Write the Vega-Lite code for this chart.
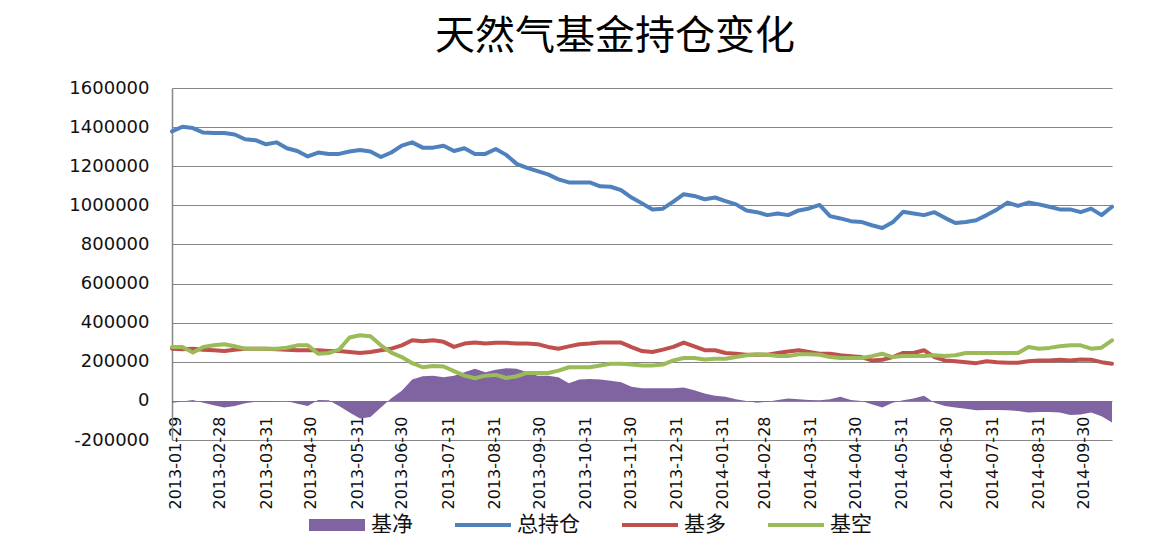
{
  "$schema": "https://vega.github.io/schema/vega-lite/v6.json",
  "autosize": {"type": "none"},
  "width": 940,
  "height": 352,
  "padding": {"left": 172, "top": 88, "right": 50, "bottom": 113},
  "background": "white",
  "title": {"text": "天然气基金持仓变化", "font": "Noto Sans CJK SC", "fontSize": 40, "fontWeight": "normal", "color": "#000000", "anchor": "middle", "frame": "group", "offset": 22, "dx": -27},
  "data": {"values": [
    {"date": "2013-01-29", "基净": -10000, "总持仓": 1378000, "基多": 267000, "基空": 276000},
    {"date": "2013-02-05", "基净": -3000, "总持仓": 1402000, "基多": 264000, "基空": 276000},
    {"date": "2013-02-12", "基净": 5000, "总持仓": 1395000, "基多": 267000, "基空": 247000},
    {"date": "2013-02-19", "基净": -9000, "总持仓": 1372000, "基多": 262000, "基空": 276000},
    {"date": "2013-02-26", "基净": -22000, "总持仓": 1370000, "基多": 259000, "基空": 284000},
    {"date": "2013-03-05", "基净": -34000, "总持仓": 1370000, "基多": 255000, "基空": 290000},
    {"date": "2013-03-12", "基净": -26000, "总持仓": 1362000, "基多": 262000, "基空": 279000},
    {"date": "2013-03-19", "基净": -12000, "总持仓": 1338000, "基多": 267000, "基空": 267000},
    {"date": "2013-03-26", "基净": -5000, "总持仓": 1333000, "基多": 267000, "基空": 267000},
    {"date": "2013-04-02", "基净": -5000, "总持仓": 1312000, "基多": 267000, "基空": 267000},
    {"date": "2013-04-09", "基净": -3000, "总持仓": 1322000, "基多": 264000, "基空": 267000},
    {"date": "2013-04-16", "基净": 0, "总持仓": 1292000, "基多": 262000, "基空": 272000},
    {"date": "2013-04-23", "基净": -14000, "总持仓": 1278000, "基多": 259000, "基空": 284000},
    {"date": "2013-04-30", "基净": -26000, "总持仓": 1250000, "基多": 259000, "基空": 284000},
    {"date": "2013-05-07", "基净": 5000, "总持仓": 1270000, "基多": 259000, "基空": 241000},
    {"date": "2013-05-14", "基净": 3000, "总持仓": 1263000, "基多": 255000, "基空": 245000},
    {"date": "2013-05-21", "基净": -26000, "总持仓": 1263000, "基多": 255000, "基空": 262000},
    {"date": "2013-05-28", "基净": -60000, "总持仓": 1275000, "基多": 250000, "基空": 324000},
    {"date": "2013-06-04", "基净": -90000, "总持仓": 1283000, "基多": 245000, "基空": 336000},
    {"date": "2013-06-11", "基净": -83000, "总持仓": 1275000, "基多": 250000, "基空": 331000},
    {"date": "2013-06-18", "基净": -34000, "总持仓": 1247000, "基多": 259000, "基空": 284000},
    {"date": "2013-06-25", "基净": 14000, "总持仓": 1270000, "基多": 267000, "基空": 247000},
    {"date": "2013-07-02", "基净": 52000, "总持仓": 1305000, "基多": 284000, "基空": 224000},
    {"date": "2013-07-09", "基净": 109000, "总持仓": 1322000, "基多": 310000, "基空": 193000},
    {"date": "2013-07-16", "基净": 126000, "总持仓": 1295000, "基多": 305000, "基空": 172000},
    {"date": "2013-07-23", "基净": 129000, "总持仓": 1295000, "基多": 310000, "基空": 178000},
    {"date": "2013-07-30", "基净": 121000, "总持仓": 1305000, "基多": 302000, "基空": 176000},
    {"date": "2013-08-06", "基净": 129000, "总持仓": 1278000, "基多": 276000, "基空": 152000},
    {"date": "2013-08-13", "基净": 147000, "总持仓": 1292000, "基多": 293000, "基空": 129000},
    {"date": "2013-08-20", "基净": 164000, "总持仓": 1263000, "基多": 298000, "基空": 116000},
    {"date": "2013-08-27", "基净": 147000, "总持仓": 1263000, "基多": 293000, "基空": 129000},
    {"date": "2013-09-03", "基净": 159000, "总持仓": 1288000, "基多": 297000, "基空": 133000},
    {"date": "2013-09-10", "基净": 167000, "总持仓": 1258000, "基多": 297000, "基空": 117000},
    {"date": "2013-09-17", "基净": 164000, "总持仓": 1212000, "基多": 293000, "基空": 126000},
    {"date": "2013-09-24", "基净": 147000, "总持仓": 1192000, "基多": 293000, "基空": 143000},
    {"date": "2013-10-01", "基净": 129000, "总持仓": 1175000, "基多": 290000, "基空": 143000},
    {"date": "2013-10-08", "基净": 129000, "总持仓": 1158000, "基多": 276000, "基空": 143000},
    {"date": "2013-10-15", "基净": 121000, "总持仓": 1133000, "基多": 267000, "基空": 155000},
    {"date": "2013-10-22", "基净": 90000, "总持仓": 1117000, "基多": 279000, "基空": 172000},
    {"date": "2013-10-29", "基净": 109000, "总持仓": 1117000, "基多": 290000, "基空": 172000},
    {"date": "2013-11-05", "基净": 112000, "总持仓": 1117000, "基多": 293000, "基空": 172000},
    {"date": "2013-11-12", "基净": 109000, "总持仓": 1097000, "基多": 298000, "基空": 181000},
    {"date": "2013-11-19", "基净": 103000, "总持仓": 1095000, "基多": 298000, "基空": 190000},
    {"date": "2013-11-26", "基净": 95000, "总持仓": 1078000, "基多": 298000, "基空": 190000},
    {"date": "2013-12-03", "基净": 72000, "总持仓": 1040000, "基多": 275000, "基空": 186000},
    {"date": "2013-12-10", "基净": 65000, "总持仓": 1010000, "基多": 255000, "基空": 181000},
    {"date": "2013-12-17", "基净": 64000, "总持仓": 979000, "基多": 250000, "基空": 181000},
    {"date": "2013-12-24", "基净": 64000, "总持仓": 983000, "基多": 262000, "基空": 186000},
    {"date": "2013-12-31", "基净": 64000, "总持仓": 1019000, "基多": 276000, "基空": 207000},
    {"date": "2014-01-07", "基净": 69000, "总持仓": 1057000, "基多": 298000, "基空": 219000},
    {"date": "2014-01-14", "基净": 55000, "总持仓": 1048000, "基多": 279000, "基空": 219000},
    {"date": "2014-01-21", "基净": 38000, "总持仓": 1031000, "基多": 259000, "基空": 212000},
    {"date": "2014-01-28", "基净": 26000, "总持仓": 1040000, "基多": 259000, "基空": 216000},
    {"date": "2014-02-04", "基净": 21000, "总持仓": 1022000, "基多": 245000, "基空": 216000},
    {"date": "2014-02-11", "基净": 9000, "总持仓": 1005000, "基多": 241000, "基空": 224000},
    {"date": "2014-02-18", "基净": 0, "总持仓": 974000, "基多": 236000, "基空": 233000},
    {"date": "2014-02-25", "基净": -9000, "总持仓": 965000, "基多": 236000, "基空": 238000},
    {"date": "2014-03-04", "基净": -5000, "总持仓": 950000, "基多": 236000, "基空": 236000},
    {"date": "2014-03-11", "基净": 5000, "总持仓": 958000, "基多": 245000, "基空": 229000},
    {"date": "2014-03-18", "基净": 12000, "总持仓": 950000, "基多": 253000, "基空": 229000},
    {"date": "2014-03-25", "基净": 9000, "总持仓": 974000, "基多": 259000, "基空": 238000},
    {"date": "2014-04-01", "基净": 5000, "总持仓": 984000, "基多": 250000, "基空": 238000},
    {"date": "2014-04-08", "基净": 3000, "总持仓": 1002000, "基多": 241000, "基空": 236000},
    {"date": "2014-04-15", "基净": 9000, "总持仓": 945000, "基多": 241000, "基空": 224000},
    {"date": "2014-04-22", "基净": 21000, "总持仓": 933000, "基多": 233000, "基空": 219000},
    {"date": "2014-04-29", "基净": 5000, "总持仓": 919000, "基多": 228000, "基空": 219000},
    {"date": "2014-05-06", "基净": 0, "总持仓": 915000, "基多": 224000, "基空": 219000},
    {"date": "2014-05-13", "基净": -17000, "总持仓": 898000, "基多": 207000, "基空": 229000},
    {"date": "2014-05-20", "基净": -34000, "总持仓": 884000, "基多": 210000, "基空": 241000},
    {"date": "2014-05-27", "基净": -9000, "总持仓": 913000, "基多": 224000, "基空": 224000},
    {"date": "2014-06-03", "基净": 3000, "总持仓": 967000, "基多": 245000, "基空": 229000},
    {"date": "2014-06-10", "基净": 12000, "总持仓": 958000, "基多": 245000, "基空": 229000},
    {"date": "2014-06-17", "基净": 26000, "总持仓": 950000, "基多": 259000, "基空": 229000},
    {"date": "2014-06-24", "基净": -9000, "总持仓": 965000, "基多": 224000, "基空": 233000},
    {"date": "2014-07-01", "基净": -26000, "总持仓": 936000, "基多": 207000, "基空": 229000},
    {"date": "2014-07-08", "基净": -34000, "总持仓": 910000, "基多": 203000, "基空": 233000},
    {"date": "2014-07-15", "基净": -40000, "总持仓": 915000, "基多": 198000, "基空": 245000},
    {"date": "2014-07-22", "基净": -48000, "总持仓": 924000, "基多": 193000, "基空": 245000},
    {"date": "2014-07-29", "基净": -47000, "总持仓": 950000, "基多": 203000, "基空": 245000},
    {"date": "2014-08-05", "基净": -47000, "总持仓": 979000, "基多": 198000, "基空": 245000},
    {"date": "2014-08-12", "基净": -48000, "总持仓": 1014000, "基多": 195000, "基空": 245000},
    {"date": "2014-08-19", "基净": -52000, "总持仓": 997000, "基多": 195000, "基空": 245000},
    {"date": "2014-08-26", "基净": -60000, "总持仓": 1014000, "基多": 203000, "基空": 276000},
    {"date": "2014-09-02", "基净": -57000, "总持仓": 1005000, "基多": 207000, "基空": 267000},
    {"date": "2014-09-09", "基净": -57000, "总持仓": 993000, "基多": 207000, "基空": 271000},
    {"date": "2014-09-16", "基净": -60000, "总持仓": 979000, "基多": 210000, "基空": 279000},
    {"date": "2014-09-23", "基净": -72000, "总持仓": 979000, "基多": 207000, "基空": 284000},
    {"date": "2014-09-30", "基净": -69000, "总持仓": 965000, "基多": 212000, "基空": 284000},
    {"date": "2014-10-07", "基净": -60000, "总持仓": 983000, "基多": 210000, "基空": 267000},
    {"date": "2014-10-14", "基净": -78000, "总持仓": 950000, "基多": 198000, "基空": 272000},
    {"date": "2014-10-21", "基净": -110000, "总持仓": 993000, "基多": 190000, "基空": 310000}
  ]},
  "encoding": {
    "x": {
      "field": "date", "type": "temporal",
      "scale": {"type": "utc", "domain": [{"year": 2013, "month": 1, "date": 29, "utc": true}, {"year": 2014, "month": 10, "date": 21, "utc": true}], "nice": false, "padding": 0},
      "axis": {
        "title": null, "format": "%Y-%m-%d", "labelAngle": 270,
        "values": [
          {"year": 2013, "month": 1, "date": 29, "utc": true},
          {"year": 2013, "month": 2, "date": 28, "utc": true},
          {"year": 2013, "month": 3, "date": 31, "utc": true},
          {"year": 2013, "month": 4, "date": 30, "utc": true},
          {"year": 2013, "month": 5, "date": 31, "utc": true},
          {"year": 2013, "month": 6, "date": 30, "utc": true},
          {"year": 2013, "month": 7, "date": 31, "utc": true},
          {"year": 2013, "month": 8, "date": 31, "utc": true},
          {"year": 2013, "month": 9, "date": 30, "utc": true},
          {"year": 2013, "month": 10, "date": 31, "utc": true},
          {"year": 2013, "month": 11, "date": 30, "utc": true},
          {"year": 2013, "month": 12, "date": 31, "utc": true},
          {"year": 2014, "month": 1, "date": 31, "utc": true},
          {"year": 2014, "month": 2, "date": 28, "utc": true},
          {"year": 2014, "month": 3, "date": 31, "utc": true},
          {"year": 2014, "month": 4, "date": 30, "utc": true},
          {"year": 2014, "month": 5, "date": 31, "utc": true},
          {"year": 2014, "month": 6, "date": 30, "utc": true},
          {"year": 2014, "month": 7, "date": 31, "utc": true},
          {"year": 2014, "month": 8, "date": 31, "utc": true},
          {"year": 2014, "month": 9, "date": 30, "utc": true}
        ],
        "offset": -39, "domain": false, "ticks": false, "tickSize": 0, "grid": false,
        "labelPadding": 15, "labelOffset": 3, "labelFont": "DejaVu Sans", "labelFontSize": 16, "labelColor": "#111111",
        "labelOverlap": false, "labelFlush": false, "labelBound": false, "labelLimit": 0
      }
    },
    "y": {
      "field": "value", "type": "quantitative",
      "scale": {"domain": [-200000, 1600000], "nice": false, "zero": false},
      "axis": {
        "title": null,
        "values": [-200000, 0, 200000, 400000, 600000, 800000, 1000000, 1200000, 1400000, 1600000],
        "labelExpr": "datum.value < 0 ? '-' + abs(datum.value) : '' + datum.value",
        "labelOverlap": false, "labelFlush": false, "labelBound": false,
        "labelFont": "DejaVu Sans", "labelFontSize": 18, "labelColor": "#111111", "labelPadding": 23,
        "ticks": false, "tickSize": 0,
        "domain": true, "domainColor": "#868686", "domainWidth": 1.5,
        "grid": true, "gridColor": "#868686", "gridWidth": 1.2, "gridOpacity": 1
      }
    },
    "color": {
      "field": "series", "type": "nominal",
      "scale": {"domain": ["基净", "总持仓", "基多", "基空"], "range": ["#8064A2", "#4F81BD", "#C0504D", "#9BBB59"]},
      "legend": {
        "orient": "none", "legendX": 137, "legendY": 409, "direction": "horizontal", "title": null, "padding": 0,
        "symbolSize": 3136, "symbolType": "M-1,-0.21H1V0.21H-1Z",
        "labelFont": "Noto Sans CJK SC", "labelFontSize": 21, "labelColor": "#111111", "labelOffset": 6, "columnPadding": 42,
        "encode": {"symbols": {"update": {
          "shape": {"signal": "datum.value === '基净' ? 'M-1,-0.21H1V0.21H-1Z' : 'M-1,-0.075H1V0.075H-1Z'"},
          "fill": {"scale": "color", "field": "value"},
          "stroke": {"value": "transparent"},
          "strokeWidth": {"value": 0},
          "opacity": {"value": 1}
        }}}
      }
    }
  },
  "layer": [
    {
      "transform": [{"fold": ["基净"], "as": ["series", "value"]}],
      "mark": {"type": "area", "opacity": 1, "interpolate": "linear"},
      "encoding": {
        "y2": {"datum": 0}
      }
    },
    {
      "transform": [{"fold": ["总持仓", "基多", "基空"], "as": ["series", "value"]}],
      "mark": {"type": "line", "strokeWidth": 4, "strokeJoin": "round", "strokeCap": "round", "interpolate": "linear"},
      "encoding": {}
    }
  ],
  "config": {"view": {"stroke": null}}
}
